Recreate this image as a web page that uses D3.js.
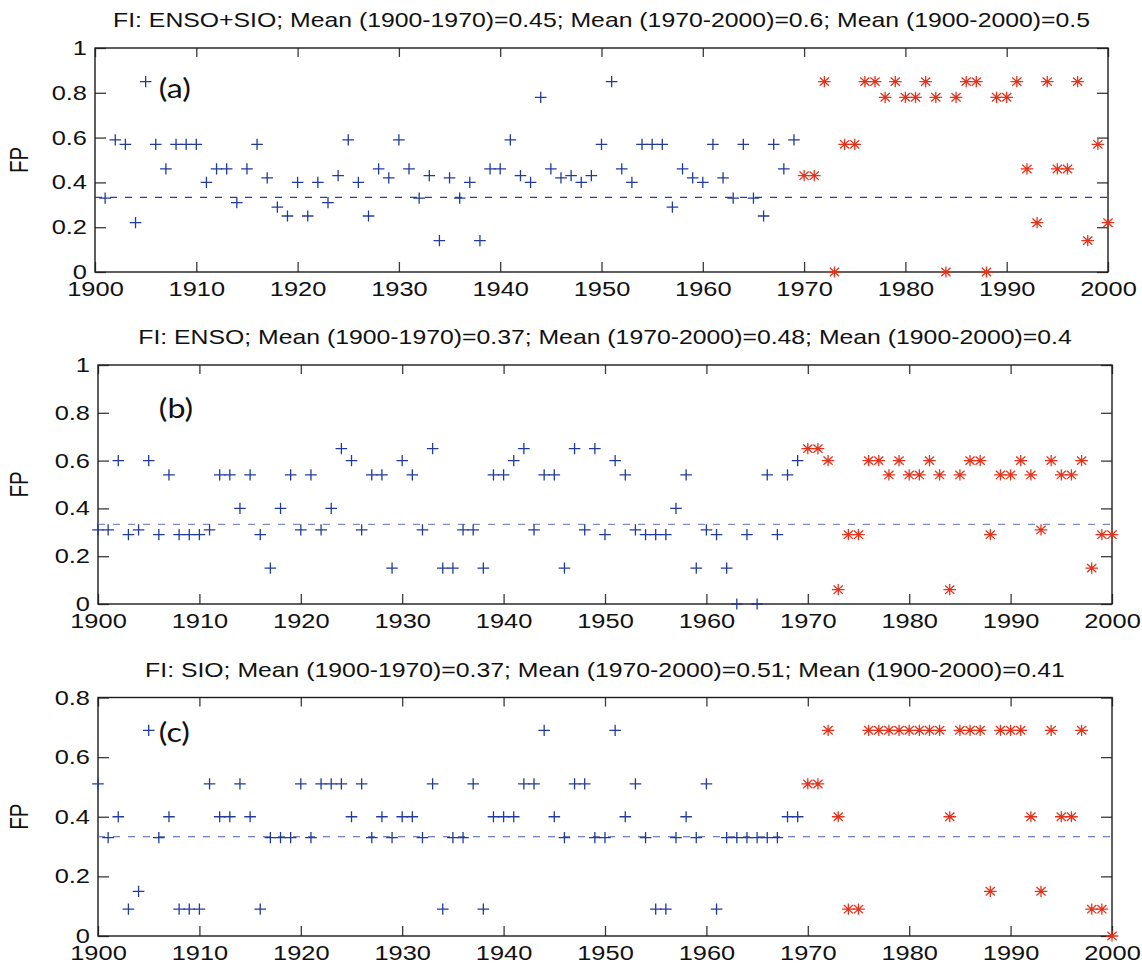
<!DOCTYPE html>
<html>
<head>
<meta charset="utf-8">
<script src="https://cdn.jsdelivr.net/npm/d3@7"></script>
<style>
  html, body { margin: 0; padding: 0; background: #fff; }
  svg { display: block; }
  text { font-family: "Liberation Sans", Arial, sans-serif; fill: #111; }
</style>
</head>
<body>
<svg id="chart" width="1142" height="967"></svg>
<script>
// ---------------- DATA ----------------
const xTickYears = [1900, 1910, 1920, 1930, 1940, 1950, 1960, 1970, 1980, 1990, 2000];
const yTicksAB = [0, 0.2, 0.4, 0.6, 0.8, 1];
const yTicksC = [0, 0.2, 0.4, 0.6, 0.8];
const yTickLabelsAB = ["0", "0.2", "0.4", "0.6", "0.8", "1"];
const yTickLabelsC = ["0", "0.2", "0.4", "0.6", "0.8"];
const referenceLevel = 0.333;

const titleA = "FI: ENSO+SIO; Mean (1900-1970)=0.45; Mean (1970-2000)=0.6; Mean (1900-2000)=0.5";
const titleB = "FI: ENSO; Mean (1900-1970)=0.37; Mean (1970-2000)=0.48; Mean (1900-2000)=0.4";
const titleC = "FI: SIO; Mean (1900-1970)=0.37; Mean (1970-2000)=0.51; Mean (1900-2000)=0.41";
const yLabel = "FP";

// Panel (a): ENSO+SIO, blue 1901-1969, red 1970-2000
const yearsA1 = d3.range(1901, 1970);
const fpA1 = [0.33, 0.59, 0.57, 0.22, 0.85, 0.57, 0.46, 0.57, 0.57, 0.57,
              0.40, 0.46, 0.46, 0.31, 0.46, 0.57, 0.42, 0.29, 0.25, 0.40,
              0.25, 0.40, 0.31, 0.43, 0.59, 0.40, 0.25, 0.46, 0.42, 0.59,
              0.46, 0.33, 0.43, 0.14, 0.42, 0.33, 0.40, 0.14, 0.46, 0.46,
              0.59, 0.43, 0.40, 0.78, 0.46, 0.42, 0.43, 0.40, 0.43, 0.57,
              0.85, 0.46, 0.40, 0.57, 0.57, 0.57, 0.29, 0.46, 0.42, 0.40,
              0.57, 0.42, 0.33, 0.57, 0.33, 0.25, 0.57, 0.46, 0.59];
const yearsA2 = d3.range(1970, 2001);
const fpA2 = [0.43, 0.43, 0.85, 0.00, 0.57, 0.57, 0.85, 0.85, 0.78, 0.85,
              0.78, 0.78, 0.85, 0.78, 0.00, 0.78, 0.85, 0.85, 0.00, 0.78,
              0.78, 0.85, 0.46, 0.22, 0.85, 0.46, 0.46, 0.85, 0.14, 0.57,
              0.22];

// Panel (b): ENSO, blue 1900-1969, red 1970-2000
const yearsB1 = d3.range(1900, 1970);
const fpB1 = [0.31, 0.31, 0.60, 0.29, 0.31, 0.60, 0.29, 0.54, 0.29, 0.29,
              0.29, 0.31, 0.54, 0.54, 0.40, 0.54, 0.29, 0.15, 0.40, 0.54,
              0.31, 0.54, 0.31, 0.40, 0.65, 0.60, 0.31, 0.54, 0.54, 0.15,
              0.60, 0.54, 0.31, 0.65, 0.15, 0.15, 0.31, 0.31, 0.15, 0.54,
              0.54, 0.60, 0.65, 0.31, 0.54, 0.54, 0.15, 0.65, 0.31, 0.65,
              0.29, 0.60, 0.54, 0.31, 0.29, 0.29, 0.29, 0.40, 0.54, 0.15,
              0.31, 0.29, 0.15, 0.00, 0.29, 0.00, 0.54, 0.29, 0.54, 0.60];
const yearsB2 = d3.range(1970, 2001);
const fpB2 = [0.65, 0.65, 0.60, 0.06, 0.29, 0.29, 0.60, 0.60, 0.54, 0.60,
              0.54, 0.54, 0.60, 0.54, 0.06, 0.54, 0.60, 0.60, 0.29, 0.54,
              0.54, 0.60, 0.54, 0.31, 0.60, 0.54, 0.54, 0.60, 0.15, 0.29,
              0.29];

// Panel (c): SIO, blue 1900-1969, red 1970-2000
const yearsC1 = d3.range(1900, 1970);
const fpC1 = [0.51, 0.33, 0.40, 0.09, 0.15, 0.69, 0.33, 0.40, 0.09, 0.09,
              0.09, 0.51, 0.40, 0.40, 0.51, 0.40, 0.09, 0.33, 0.33, 0.33,
              0.51, 0.33, 0.51, 0.51, 0.51, 0.40, 0.51, 0.33, 0.40, 0.33,
              0.40, 0.40, 0.33, 0.51, 0.09, 0.33, 0.33, 0.51, 0.09, 0.40,
              0.40, 0.40, 0.51, 0.51, 0.69, 0.40, 0.33, 0.51, 0.51, 0.33,
              0.33, 0.69, 0.40, 0.51, 0.33, 0.09, 0.09, 0.33, 0.40, 0.33,
              0.51, 0.09, 0.33, 0.33, 0.33, 0.33, 0.33, 0.33, 0.40, 0.40];
const yearsC2 = d3.range(1970, 2001);
const fpC2 = [0.51, 0.51, 0.69, 0.40, 0.09, 0.09, 0.69, 0.69, 0.69, 0.69,
              0.69, 0.69, 0.69, 0.69, 0.40, 0.69, 0.69, 0.69, 0.15, 0.69,
              0.69, 0.69, 0.40, 0.15, 0.69, 0.40, 0.40, 0.69, 0.09, 0.09,
              0.00];

// ---------------- DRAWING ----------------
const SX = 1.24;            // horizontal stretch of the original figure's text
const BLUE = "#213b9c";
const RED = "#e3331c";
const svg = d3.select("#chart");
svg.append("rect").attr("width", 1142).attr("height", 967).attr("fill", "#fff");

const plusPath = "M-5.8,0H5.8M0,-5.6V5.6";
const starPath = "M-6.3,0H6.3M0,-5.6V5.6M-4.6,-4.2L4.6,4.2M-4.6,4.2L4.6,-4.2";

function stretchedText(g, x, y, str, size, anchor, family) {
  const t = g.append("text")
    .attr("transform", `translate(${x},${y}) scale(${SX},1)`)
    .attr("text-anchor", anchor)
    .style("font-size", size + "px")
    .text(str);
  if (family) t.style("font-family", family);
  return t;
}

function drawPanel(cfg) {
  const g = svg.append("g");
  const x = d3.scaleLinear().domain([1900, 2000]).range([cfg.left, cfg.right]);
  const y = d3.scaleLinear().domain([0, cfg.yMax]).range([cfg.bottom, cfg.top]);

  // bottom axis with labels
  const xb = g.append("g").attr("transform", `translate(0,${cfg.bottom})`)
    .call(d3.axisBottom(x).tickValues(xTickYears).tickSizeInner(-10).tickSizeOuter(0)
      .tickPadding(9).tickFormat(d3.format("d")));
  xb.selectAll("text").attr("transform", `scale(${SX},1)`).style("font-size", "20.5px").attr("fill", "#111");
  // top axis (ticks only)
  g.append("g").attr("transform", `translate(0,${cfg.top})`)
    .call(d3.axisTop(x).tickValues(xTickYears).tickSizeInner(-9).tickSizeOuter(0).tickFormat(""));
  // left axis with labels
  const yl = g.append("g").attr("transform", `translate(${cfg.left},0)`)
    .call(d3.axisLeft(y).tickValues(cfg.yTicks).tickSizeInner(-11).tickSizeOuter(0)
      .tickFormat((d, i) => cfg.yLabels[i]));
  yl.selectAll("text").attr("x", -8 / SX).attr("transform", `scale(${SX},1)`)
    .style("font-size", "20.5px").attr("fill", "#111");
  // right axis (ticks only)
  g.append("g").attr("transform", `translate(${cfg.right},0)`)
    .call(d3.axisRight(y).tickValues(cfg.yTicks).tickSizeInner(-11).tickSizeOuter(0).tickFormat(""));

  g.selectAll(".domain").remove();
  g.selectAll(".tick line").attr("stroke", "#3a3a3a").attr("stroke-width", 1.3);

  // frame
  g.append("rect")
    .attr("x", cfg.left).attr("y", cfg.top)
    .attr("width", cfg.right - cfg.left).attr("height", cfg.bottom - cfg.top)
    .attr("fill", "none").attr("stroke", "#1c1c1c").attr("stroke-width", 1.4);

  // reference dashed line
  g.append("line")
    .attr("x1", x(1900)).attr("x2", x(2000))
    .attr("y1", y(referenceLevel)).attr("y2", y(referenceLevel))
    .attr("stroke", cfg.dashColor).attr("stroke-width", 1.1)
    .attr("stroke-dasharray", "7,8");

  // blue plus markers (before 1970)
  g.append("g").selectAll("path").data(cfg.years1.map((yr, i) => [yr, cfg.vals1[i]]))
    .join("path")
    .attr("transform", d => `translate(${x(d[0])},${y(d[1])})`)
    .attr("d", plusPath).attr("fill", "none").attr("stroke", BLUE).attr("stroke-width", 1.3);

  // red asterisk markers (1970 onward)
  g.append("g").selectAll("path").data(cfg.years2.map((yr, i) => [yr, cfg.vals2[i]]))
    .join("path")
    .attr("transform", d => `translate(${x(d[0])},${y(d[1])})`)
    .attr("d", starPath).attr("fill", "none").attr("stroke", RED).attr("stroke-width", 1.3);

  // title
  stretchedText(g, (cfg.left + cfg.right) / 2, cfg.top - 21, cfg.title, 20, "middle");
  // y label
  g.append("text")
    .attr("transform", `translate(28,${(cfg.top + cfg.bottom) / 2}) scale(${SX},1) rotate(-90)`)
    .attr("text-anchor", "middle")
    .style("font-size", "20.5px")
    .text(yLabel);
  // panel letter
  stretchedText(g, x(cfg.letterPos[0]), y(cfg.letterPos[1]), cfg.letter, 26, "start", "Lato, 'Open Sans', sans-serif");
}

drawPanel({ left: 95, right: 1108, top: 48, bottom: 272, yMax: 1,
  yTicks: yTicksAB, yLabels: yTickLabelsAB, title: titleA, letter: "(a)",
  letterPos: [1906.3, 0.775], dashColor: "#2c3f9e",
  years1: yearsA1, vals1: fpA1, years2: yearsA2, vals2: fpA2 });

drawPanel({ left: 98, right: 1112, top: 365, bottom: 604, yMax: 1,
  yTicks: yTicksAB, yLabels: yTickLabelsAB, title: titleB, letter: "(b)",
  letterPos: [1906.0, 0.78], dashColor: "#7d8bc6",
  years1: yearsB1, vals1: fpB1, years2: yearsB2, vals2: fpB2 });

drawPanel({ left: 98, right: 1112, top: 697.5, bottom: 936, yMax: 0.8,
  yTicks: yTicksC, yLabels: yTickLabelsC, title: titleC, letter: "(c)",
  letterPos: [1906.0, 0.65], dashColor: "#4a5bb0",
  years1: yearsC1, vals1: fpC1, years2: yearsC2, vals2: fpC2 });
</script>
</body>
</html>
